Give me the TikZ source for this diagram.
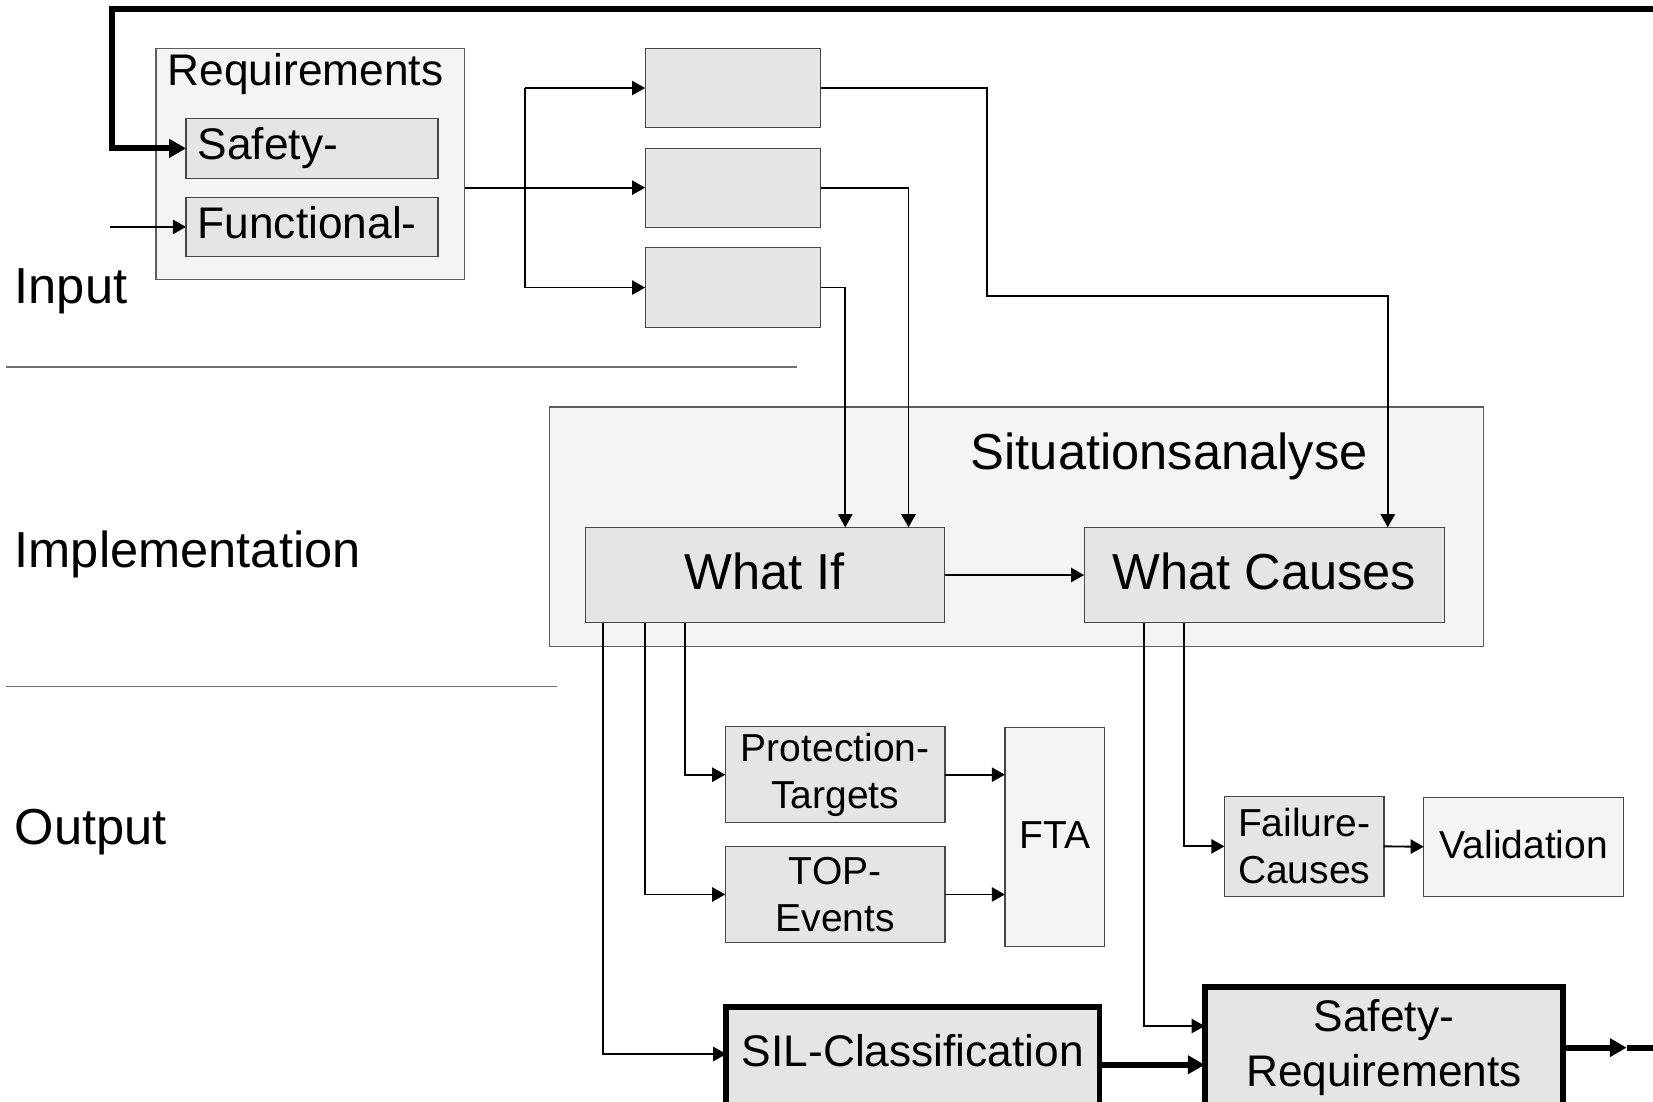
\documentclass[tikz,border=0pt]{standalone}
\usepackage{fontspec}
\setmainfont{Liberation Sans}
\usetikzlibrary{arrows.meta}

\definecolor{boxfill}{HTML}{E5E5E5}
\definecolor{panelfill}{HTML}{F4F4F4}
\definecolor{boxline}{HTML}{474747}
\definecolor{panelline}{HTML}{5E5E5E}
\definecolor{ruleline}{HTML}{6E6E6E}

% text sizes
\newcommand\txtL{\fontsize{48pt}{56pt}\selectfont}
\newcommand\txtM{\fontsize{42pt}{52pt}\selectfont}
\newcommand\txtS{\fontsize{37pt}{44.5pt}\selectfont}

\begin{document}
\begin{tikzpicture}[x=1pt,y=-1pt,
  every node/.style={inner sep=0pt, outer sep=0pt},
  panel/.style={rectangle, draw=panelline, line width=1.1pt, fill=panelfill},
  box/.style={rectangle, draw=boxline, line width=1.1pt, fill=boxfill},
  lightbox/.style={rectangle, draw=boxline, line width=1.1pt, fill=panelfill},
  heavybox/.style={rectangle, draw=black, line width=5.5pt, fill=boxfill},
  lineM/.style={font=\txtM, text height=30.7pt, text depth=8.8pt},
  lineL/.style={font=\txtL, text height=36pt, text depth=8pt},
  lineS/.style={font=\txtS, text height=27pt, text depth=5pt},
  twoS/.style={font=\txtS, align=center},
  rowlabel/.style={anchor=base west, font=\txtL},
  wire/.style={line width=1.8pt},
  link/.style={wire, -{Triangle[length=12.5pt,width=13.5pt]}},
  heavyline/.style={line width=5.6pt, line join=miter},
  heavylink/.style={heavyline, -{Triangle[length=16pt,width=17pt]}},
  rule/.style={draw=ruleline, line width=1.3pt}
]
\useasboundingbox (0,0) rectangle (1568,1045);
\fill[white] (0,0) rectangle (1568,1045);
\clip (0,0) rectangle (1568,1045);

% ---- row labels and separators
\node[rowlabel] (lblIn) at (14,288) {Input};
\node[rowlabel] (lblImpl) at (14,538.2) {Implementation};
\node[rowlabel] (lblOut) at (14,800.6) {Output};
\coordinate (sepA1) at (5.7,348);
\coordinate (sepA2) at (756,348);
\coordinate (sepB1) at (5.7,651.4);
\coordinate (sepB2) at (528.5,651.4);
\draw[rule] (sepA1) -- (sepA2);
\draw[rule] (sepB1) -- (sepB2);

% ---- input: requirements
\node[panel, minimum width=293pt, minimum height=219pt] (req) at (294.5,155.5) {};
\node[anchor=base west, font=\txtM] (reqT) at (159,81) {Requirements};
\node[box, lineM, minimum width=239pt, minimum height=56.5pt, text width=217pt, align=left]
  (safety) at (296,140.75) {Safety-};
\node[box, lineM, minimum width=239pt, minimum height=56.5pt, text width=217pt, align=left]
  (functional) at (296,215.25) {Functional-};

% three intermediate blocks
\node[box, minimum width=166.5pt, minimum height=75pt] (b1) at (695.25,83.5) {};
\node[box, minimum width=166.5pt, minimum height=75pt] (b2) at (695.25,178) {};
\node[box, minimum width=166.5pt, minimum height=75.5pt] (b3) at (695.25,272.75) {};

% ---- implementation: situation analysis
\node[panel, minimum width=886.5pt, minimum height=227.4pt] (sit) at (964.25,499.7) {};
\node[anchor=base west, font=\txtL] (sitT) at (921,445.5) {Situationsanalyse};
\node[box, lineL, minimum width=341pt, minimum height=90.5pt] (whatif) at (725.5,545.45) {What If};
\node[box, lineL, minimum width=342pt, minimum height=90.5pt] (whatcauses) at (1199.45,545.45) {What Causes};

% ---- output
\node[box, twoS, minimum width=208.4pt, minimum height=91.1pt] (pt) at (792.2,734.85) {Protection-\\Targets};
\node[box, twoS, minimum width=208.4pt, minimum height=90.7pt] (te) at (792.2,848.45) {TOP-\\Events};
\node[lightbox, lineS, minimum width=94.7pt, minimum height=208pt] (fta) at (1000.65,794) {FTA};
\node[box, twoS, minimum width=151.3pt, minimum height=94.3pt] (fc) at (1237.15,802.85) {Failure-\\Causes};
\node[lightbox, lineS, minimum width=189.7pt, minimum height=93.7pt] (val) at (1445.45,803.15) {Validation};
\node[heavybox, font=\txtM, text height=30pt, text depth=47pt, minimum width=354pt, minimum height=130pt]
  (sil) at (866,1020.3) {SIL-Classification};
\node[heavybox, font=\txtM, align=center, minimum width=339.9pt, minimum height=114.5pt]
  (sr) at (1312.75,993.75) {Safety-\\Requirements};

% ---- connectors: input side
\coordinate (split) at (498,0);
\coordinate (fin) at (104.5,215.25);
\draw[wire] (req.east |- b2.west) -- (split |- b2.west);
\draw[wire] (split |- b1.west) -- (split |- b3.west);
\draw[link] (split |- b1.west) -- (b1.west);
\draw[link] (split |- b2.west) -- (b2.west);
\draw[link] (split |- b3.west) -- (b3.west);
\draw[link] (fin) -- (functional.west);

% blocks into the situation analysis
\coordinate (r1) at (935.9,280.5);
\coordinate (r2) at (1316.4,280.5);
\coordinate (c2) at (861.8,0);
\coordinate (c3) at (801.8,0);
\draw[link] (b1.east) -| (r1) -- (r2) -- (r2 |- whatcauses.north);
\draw[link] (b2.east) -| (c2 |- whatif.north);
\draw[link] (b3.east) -| (c3 |- whatif.north);
\draw[link] (whatif.east) -- (whatcauses.west);

% what-if results
\coordinate (d1) at (572,0);
\coordinate (d2) at (612,0);
\coordinate (d3) at (649.5,0);
\draw[link] (d3 |- whatif.south) |- (pt.west);
\draw[link] (d2 |- whatif.south) |- (te.west);
\draw[link] (d1 |- whatif.south) |- ([yshift=20.5pt]sil.west);
\draw[link] (pt.east) -- (pt.east -| fta.west);
\draw[link] (te.east) -- (te.east -| fta.west);

% what-causes results
\coordinate (e1) at (1085.3,0);
\coordinate (e2) at (1123.1,0);
\draw[link] (e2 |- whatcauses.south) |- (fc.west);
\draw[link] (e1 |- whatcauses.south) |- ([yshift=20.5pt]sr.west);
\draw[link] (fc.east) -- (val.west);

% ---- heavy flow and feedback loop
\draw[heavylink] ([yshift=10.3pt]sil.east) -- ([yshift=10.3pt]sil.east -| sr.west);
\coordinate (outTip) at (1543,0);
\coordinate (outEnd) at (1580,0);
\draw[heavylink] (sr.east) -- (sr.east -| outTip);
\draw[heavyline] (sr.east -| outTip) -- (sr.east -| outEnd);
\coordinate (fbR) at (1580,8.5);
\coordinate (fbL) at (106.5,8.5);
\draw[heavylink] (fbR) -- (fbL) |- (safety.west);
\end{tikzpicture}
\end{document}
